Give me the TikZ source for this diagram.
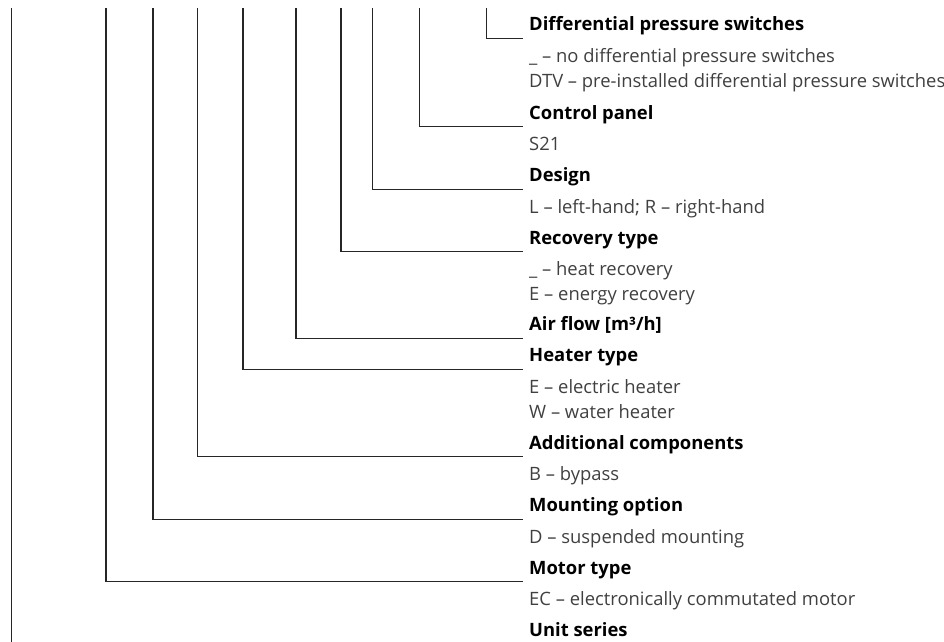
\documentclass[tikz,border=0pt]{standalone}
\usepackage{fontspec}
\setmainfont[Ligatures=NoCommon]{Open Sans}
\begin{document}
\begin{tikzpicture}[x=1pt,y=-1pt,
  conn/.style={line width=1.1pt, draw=black!85},
  head/.style={anchor=base west, inner sep=0pt, font=\fontsize{18.4}{21}\selectfont\bfseries, text=black},
  desc/.style={anchor=base west, inner sep=0pt, font=\fontsize{18.4}{21}\selectfont, text=black!75}]
\useasboundingbox (0,0) rectangle (944,641);
% headings and descriptions
\node[head] (hdiff) at (529,30.7) {Differential pressure switches};
\node[desc] (ddiff1) at (529,62.2) {\_ – no differential pressure switches};
\node[desc] (ddiff2) at (529,87.0) {DTV – pre-installed differential pressure switches};
\node[head] (hctrl) at (529,119.1) {Control panel};
\node[desc] (dctrl1) at (529,150.6) {S21};
\node[head] (hdes) at (529,181.7) {Design};
\node[desc] (ddes1) at (529,213.2) {L – left-hand; R – right-hand};
\node[head] (hrec) at (529,244.1) {Recovery type};
\node[desc] (drec1) at (529,275.6) {\_ – heat recovery};
\node[desc] (drec2) at (529,300.4) {E – energy recovery};
\node[head] (hair) at (529,330.7) {Air flow [m³/h]};
\node[head] (hheat) at (529,361.7) {Heater type};
\node[desc] (dheat1) at (529,393.2) {E – electric heater};
\node[desc] (dheat2) at (529,418.0) {W – water heater};
\node[head] (hadd) at (529,449.1) {Additional components};
\node[desc] (dadd1) at (529,480.6) {B – bypass};
\node[head] (hmnt) at (529,511.7) {Mounting option};
\node[desc] (dmnt1) at (529,543.2) {D – suspended mounting};
\node[head] (hmot) at (529,574.2) {Motor type};
\node[desc] (dmot1) at (529,605.2) {EC – electronically commutated motor};
\node[head] (hunit) at (529,636.0) {Unit series};
% tops of the connectors
\coordinate (tdiff) at (486.7,8);
\coordinate (tctrl) at (419.6,8);
\coordinate (tdes) at (372.5,8);
\coordinate (trec) at (341,8);
\coordinate (tair) at (296,8);
\coordinate (theat) at (243,8);
\coordinate (tadd) at (197.5,8);
\coordinate (tmnt) at (153,8);
\coordinate (tmot) at (106,8);
\coordinate (tunit) at (11.8,8);
\coordinate (bunit) at (11.8,660);
% connectors
\draw[conn] (tdiff) |- ([shift={(-6.5,7.6)}]hdiff.base west);
\draw[conn] (tctrl) |- ([shift={(-6.5,7.6)}]hctrl.base west);
\draw[conn] (tdes) |- ([shift={(-6.5,7.6)}]hdes.base west);
\draw[conn] (trec) |- ([shift={(-6.5,7.6)}]hrec.base west);
\draw[conn] (tair) |- ([shift={(-6.5,7.6)}]hair.base west);
\draw[conn] (theat) |- ([shift={(-6.5,7.6)}]hheat.base west);
\draw[conn] (tadd) |- ([shift={(-6.5,7.6)}]hadd.base west);
\draw[conn] (tmnt) |- ([shift={(-6.5,7.6)}]hmnt.base west);
\draw[conn] (tmot) |- ([shift={(-6.5,7.6)}]hmot.base west);
\draw[conn] (tunit) -- (bunit);
\end{tikzpicture}
\end{document}
